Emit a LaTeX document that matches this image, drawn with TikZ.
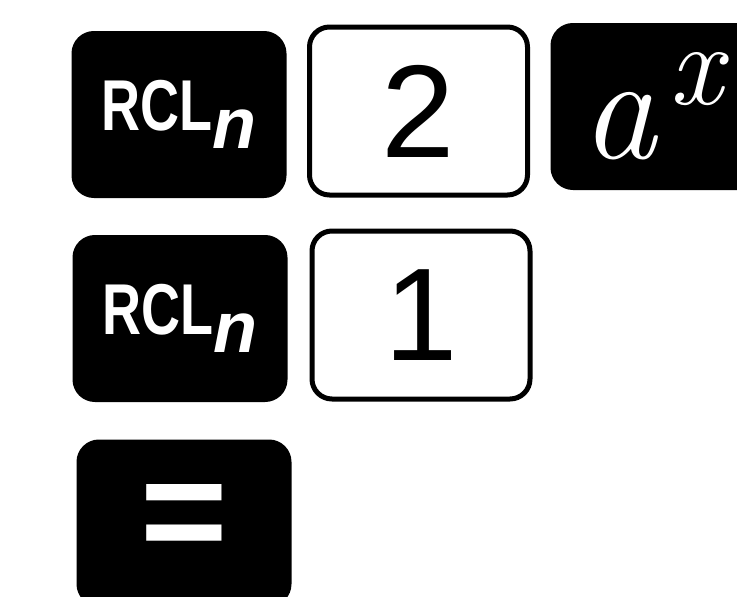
\documentclass[tikz,border=0pt]{standalone}
\usepackage{fontspec}
\setsansfont{Liberation Sans}

\begin{document}
\begin{tikzpicture}[x=1pt, y=1pt,
    key/.style={draw=black, line width=5pt, rounded corners=20pt,
                minimum width=210pt, minimum height=162pt, inner sep=0pt},
    keyb/.style={key, fill=black, text=white},
    keyw/.style={key, fill=white, text=black,
                 minimum width=218pt, minimum height=168pt},
    rcl/.style={font=\fontsize{72}{72}\selectfont\sffamily\bfseries},
    digit/.style={font=\fontsize{132}{132}\selectfont\sffamily}
  ]
  \useasboundingbox (0,0) rectangle (737,-597);
  \clip (0,0) rectangle (737,-597);
  % first row
  \node[keyb, rcl] (RCLa) at (179,-114.5)
    {\scalebox{0.75}[1]{RCL}\raisebox{-18pt}{\itshape n}};
  \node[keyw, digit] (TWO) at (418.5,-111) {2};
  \node[keyb, font=\fontsize{150}{150}\selectfont\itshape] (AX) at (658,-106.5)
    {\hspace{-12pt}a\hspace{13pt}\raisebox{54pt}{\fontsize{118}{118}\selectfont x}};
  % second row
  \node[keyb, rcl] (RCLb) at (180,-318.5)
    {\scalebox{0.75}[1]{RCL}\raisebox{-18pt}{\itshape n}};
  \node[keyw, digit] (ONE) at (421,-315) {1};
  % third row
  \node[keyb, font=\fontsize{150}{150}\selectfont\sffamily\bfseries] (EQ)
    at (184,-523) {=};
\end{tikzpicture}
\end{document}
